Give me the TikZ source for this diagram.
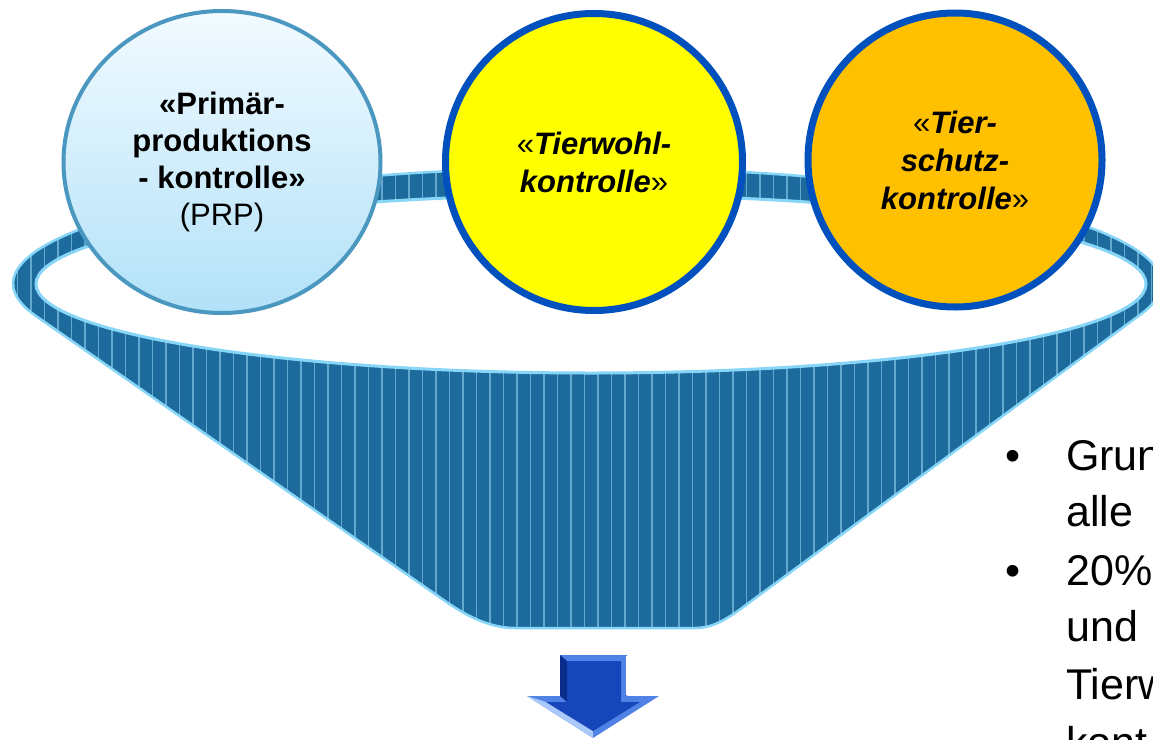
\documentclass[tikz,border=0pt]{standalone}
\usepackage{fontspec}
\setmainfont{Liberation Sans}
\usetikzlibrary{shapes.geometric}
\definecolor{funnelblue}{RGB}{29,107,156}
\definecolor{stripecol}{RGB}{100,168,208}
\definecolor{glowcol}{RGB}{135,214,247}
\definecolor{prpborder}{RGB}{74,152,192}
\definecolor{prptop}{RGB}{242,251,255}
\definecolor{prpbot}{RGB}{178,225,248}
\definecolor{ringblue}{RGB}{0,80,190}
\definecolor{goldcol}{RGB}{255,192,0}
\definecolor{yellowcol}{RGB}{255,255,0}
\definecolor{arrowdark}{RGB}{22,70,185}
\definecolor{arrowlight}{RGB}{80,130,230}
\definecolor{arrowhigh}{RGB}{170,200,250}
\definecolor{arrowshade}{RGB}{10,45,140}
\begin{document}
\begin{tikzpicture}[x=1pt,y=-1pt,
  ctrlfont/.style={font=\fontsize{31}{37}\selectfont},
  bigfont/.style={font=\fontsize{43}{57}\selectfont},
  ctrlnode/.style={inner sep=0pt, align=center, text=black, ctrlfont},
  bullettext/.style={anchor=base west, inner sep=0pt, bigfont}]
\useasboundingbox (0,0) rectangle (1153,739);
\clip (0,0) rectangle (1153,739);
\fill[white] (0,0) rectangle (1153,739);

% funnel body with stripes
\begin{scope}
  \clip (448,603) -- (36,316) arc[start angle=163.8, end angle=375.4, x radius=574, y radius=116]
        -- (750,602) .. controls (730,617) and (715,628) .. (695,628) -- (515,628)
        .. controls (492,628) and (470,618) .. (448,603) -- cycle;
  \fill[funnelblue] (0,0) rectangle (1153,739);
  \foreach \x in {4,17.5,...,1160} \draw[stripecol, line width=1.6pt] (\x,140) -- (\x,640);
\end{scope}
\draw[glowcol, line width=2.5pt] (448,603) -- (36,316) arc[start angle=163.8, end angle=375.4, x radius=574, y radius=116]
        -- (750,602) .. controls (730,617) and (715,628) .. (695,628) -- (515,628)
        .. controls (492,628) and (470,618) .. (448,603) -- cycle;
% inner opening
\fill[white] (591,284) ellipse[x radius=555, y radius=89];
\draw[glowcol, line width=3pt] (591,284) ellipse[x radius=555, y radius=89];

% control circles
\node[ctrlnode, ellipse, draw=prpborder, line width=4pt, top color=prptop, bottom color=prpbot,
      minimum width=317pt, minimum height=302pt] (prp) at (222,162)
  {\textbf{«Primär-}\\\textbf{produktions}\\\textbf{- kontrolle»}\\(PRP)};
\node[ctrlnode, circle, draw=ringblue, line width=7pt, fill=yellowcol, minimum size=297pt,
      font=\fontsize{31}{38}\selectfont] (tw) at (594,162)
  {«\textbf{\textit{Tierwohl-}}\\\textbf{\textit{kontrolle}}»};
\node[ctrlnode, circle, draw=ringblue, line width=7pt, fill=goldcol, minimum size=294pt,
      font=\fontsize{31}{38}\selectfont] (ts) at (955,160)
  {«\textbf{\textit{Tier-}}\\\textbf{\textit{schutz-}}\\\textbf{\textit{kontrolle}}»};

% arrow
\fill[arrowlight] (560,655) -- (627,655) -- (627,696) -- (659,696) -- (593,738) -- (527,696) -- (560,696) -- cycle;
\fill[arrowshade] (560,655) -- (567,661) -- (567,702) -- (560,696) -- cycle;
\fill[arrowhigh] (527,696) -- (546,702) -- (593,731) -- (593,738) -- cycle;
\fill[arrowdark] (567,661) -- (621,661) -- (621,702) -- (640,702) -- (593,731) -- (546,702) -- (567,702) -- cycle;
\draw[white, line width=1.2pt] (627,656) -- (627,695);

% bullet text (cut off at the right edge, as in the reference)
\node[anchor=base, inner sep=0pt, bigfont] (bul1) at (1013,470) {•};
\node[anchor=base, inner sep=0pt, bigfont] (bul2) at (1013,585) {•};
\node[bullettext] (l1) at (1066,470) {Grun};
\node[bullettext] (l2) at (1066,526) {alle};
\node[bullettext] (l3) at (1066,585) {20\%};
\node[bullettext] (l4) at (1066,641) {und};
\node[bullettext] (l5) at (1066,699) {Tierw};
\node[bullettext] (l6) at (1066,757) {kont};
\end{tikzpicture}
\end{document}
